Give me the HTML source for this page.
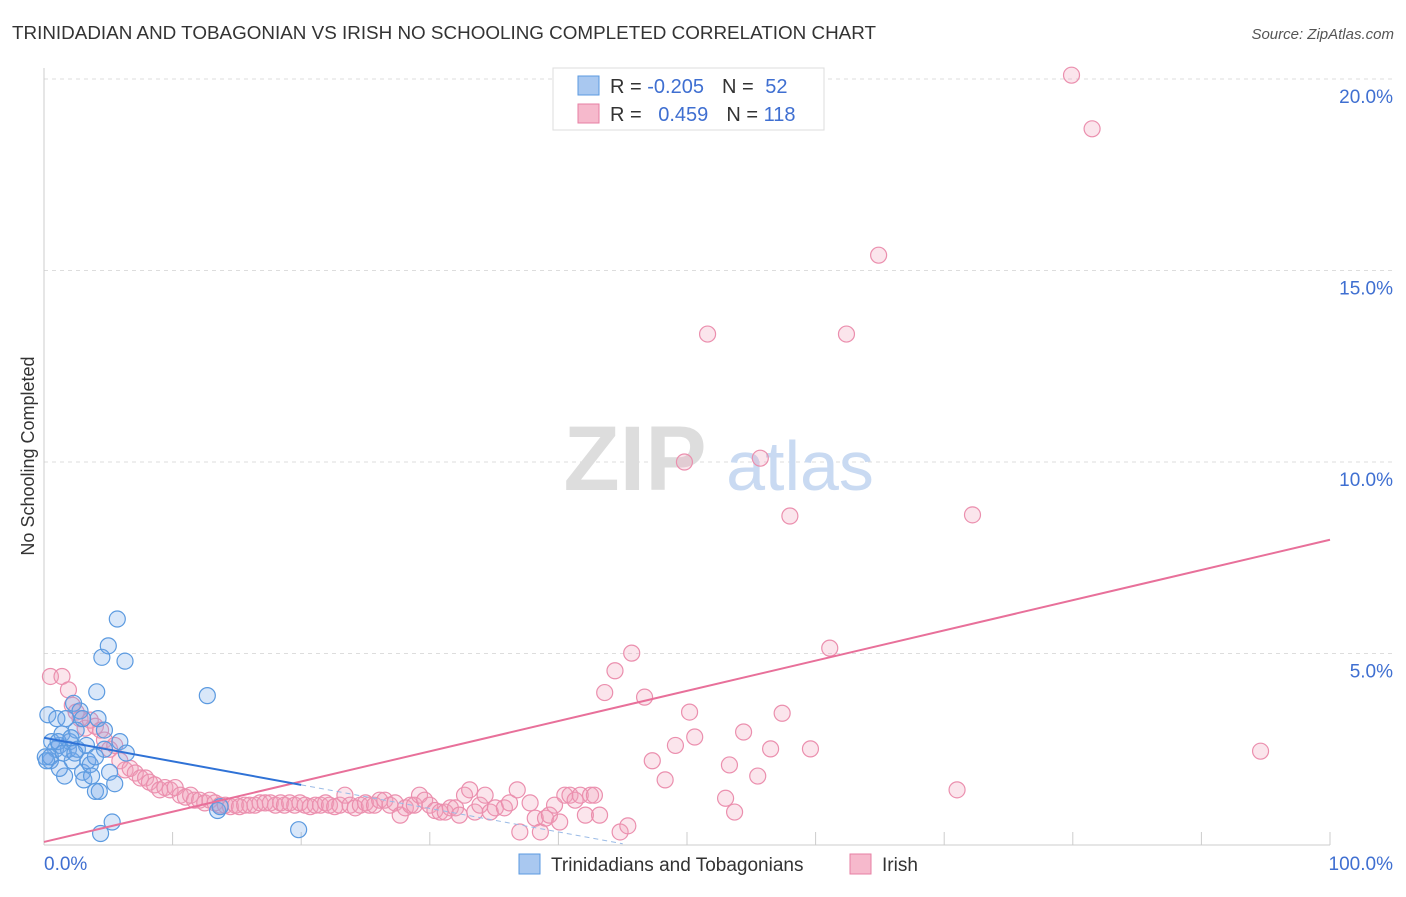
<!DOCTYPE html>
<html><head><meta charset="utf-8"><style>
body{margin:0;background:#fff;font-family:"Liberation Sans",sans-serif;}
svg text{font-family:"Liberation Sans",sans-serif;}
</style></head><body>
<svg id="chart" width="1406" height="892">
<text x="12" y="39" font-size="18" fill="#333" textLength="864" lengthAdjust="spacingAndGlyphs">TRINIDADIAN AND TOBAGONIAN VS IRISH NO SCHOOLING COMPLETED CORRELATION CHART</text>
<text x="1394" y="39" font-size="15" fill="#555" text-anchor="end" font-style="italic">Source: ZipAtlas.com</text>
<text x="34" y="456" font-size="18" fill="#333" text-anchor="middle" transform="rotate(-90 34 456)">No Schooling Completed</text>
<g id="grid"></g>
<g id="wm">
<text x="635" y="490" font-size="92" fill="#ddd" text-anchor="middle" font-family="Liberation Serif" font-weight="bold">ZIP</text>
<text x="800" y="490" font-size="70" fill="#c9daf2" text-anchor="middle">atlas</text></g>
<g id="marks"></g>
<g id="legend">
<rect x="553" y="68" width="271" height="62" fill="#fff" stroke="#ddd"/>
<rect x="578" y="76" width="21" height="19" fill="#a9c8f0" stroke="#5b9ae0"/>
<rect x="578" y="104" width="21" height="19" fill="#f6b9cc" stroke="#e77fa3"/>
<text x="610" y="93" font-size="20" fill="#333">R = <tspan fill="#3f6fd1">-0.205</tspan><tspan dx="18">N = </tspan><tspan fill="#3f6fd1" dx="6">52</tspan></text>
<text x="610" y="121" font-size="20" fill="#333">R = <tspan fill="#3f6fd1" dx="11">0.459</tspan><tspan dx="18">N = </tspan><tspan fill="#3f6fd1">118</tspan></text>
</g>
<g>
<rect x="519" y="854" width="21" height="20" fill="#a9c8f0" stroke="#5b9ae0"/>
<text x="551" y="871" font-size="19" fill="#333">Trinidadians and Tobagonians</text>
<rect x="850" y="854" width="21" height="20" fill="#f6b9cc" stroke="#e77fa3"/>
<text x="882" y="871" font-size="19" fill="#333">Irish</text>
</g>
</svg>
<script>
const yTicks=[5,10,15,20];
const yTickLabels=["5.0%","10.0%","15.0%","20.0%"];
const xTickLabels=["0.0%","100.0%"];
const blueX=[0.3,0.5,0.6,0.9,1.0,1.2,1.4,1.6,1.9,2.0,2.2,2.3,2.5,2.6,2.8,3.0,3.1,3.3,3.4,3.6,3.7,4.0,4.1,4.2,4.4,4.5,4.7,5.0,5.1,5.3,5.5,5.7,5.9,6.3,6.4,12.7,13.5,13.7,19.8,0.1,0.2,0.5,1.1,1.5,1.7,2.1,2.4,3.0,4.0,4.3,4.7,1.2];
const blueY=[3.4,2.2,2.7,2.5,3.3,2.6,2.9,1.8,2.5,2.7,2.2,3.7,3.0,2.5,3.5,1.9,1.7,2.6,2.2,2.1,1.8,1.4,4.0,3.3,0.3,4.9,2.5,5.2,1.9,0.6,1.6,5.9,2.7,4.8,2.4,3.9,0.9,1.0,0.4,2.3,2.2,2.3,2.7,2.4,3.3,2.8,2.4,3.3,2.3,1.4,3.0,2.0];
const pinkX=[0.5,1.4,1.9,2.2,2.5,2.8,3.2,3.6,4.0,4.4,4.7,5.1,5.5,5.9,6.3,6.7,7.1,7.5,7.9,8.2,8.6,9.0,9.4,9.8,10.2,10.6,11.0,11.4,11.7,12.1,12.5,12.9,13.3,13.7,14.1,14.5,14.9,15.2,15.6,16.0,16.4,16.8,17.2,17.6,18.0,18.4,18.7,19.1,19.5,19.9,20.3,20.7,21.1,21.5,21.9,22.2,22.6,23.0,23.4,23.8,24.2,24.6,25.0,25.3,25.7,26.1,26.5,26.9,27.3,27.7,28.1,28.5,28.8,29.2,29.6,30.0,30.4,30.8,31.2,31.6,32.0,32.3,32.7,33.1,33.5,33.9,34.3,34.7,35.1,35.8,36.2,36.8,37.0,37.8,38.2,38.6,39.0,39.3,39.7,40.1,40.5,40.9,41.3,41.7,42.1,42.5,42.8,43.2,43.6,44.4,44.8,45.4,45.7,46.7,47.3,48.3,49.1,50.2,50.6,51.6,49.8,53.0,53.3,53.7,54.4,55.5,55.7,56.5,57.4,58.0,59.6,61.1,62.4,64.9,71.0,72.2,79.9,81.5,94.6];
const pinkY=[4.4,4.4,4.05,3.65,3.47,3.3,3.05,3.26,3.1,3.0,2.74,2.5,2.6,2.2,1.96,2.0,1.88,1.75,1.75,1.64,1.57,1.44,1.5,1.44,1.5,1.3,1.25,1.3,1.17,1.17,1.1,1.17,1.1,1.04,1.04,1.0,1.04,1.0,1.04,1.04,1.04,1.1,1.1,1.1,1.04,1.1,1.04,1.1,1.04,1.1,1.04,1.0,1.04,1.04,1.1,1.04,1.0,1.04,1.3,1.04,0.97,1.04,1.1,1.04,1.04,1.17,1.17,1.04,1.1,0.78,0.97,1.04,1.04,1.3,1.17,1.04,0.9,0.86,0.86,0.97,0.97,0.78,1.3,1.44,0.86,1.04,1.3,0.86,0.97,0.97,1.1,1.44,0.34,1.1,0.7,0.34,0.7,0.78,1.04,0.6,1.3,1.3,1.17,1.3,0.78,1.3,1.3,0.78,3.98,4.55,0.34,0.5,5.01,3.86,2.2,1.7,2.6,3.47,2.82,13.34,10.0,1.22,2.09,0.86,2.95,1.8,10.1,2.51,3.44,8.59,2.51,5.14,13.34,15.4,1.44,8.62,20.1,18.7,2.45];
const pinkTrend=[0.08,7.97];
const blueTrend=[2.8,-0.0615];
const X=v=>44+v*12.86, Y=v=>845-v*38.3;
const NS="http://www.w3.org/2000/svg";
function mk(t,a,p){const e=document.createElementNS(NS,t);for(const k in a)e.setAttribute(k,a[k]);p.appendChild(e);return e;}
const svg=document.getElementById('chart'),grid=document.getElementById('grid'),marks=document.getElementById('marks');
yTicks.forEach((t,i)=>{
 const l=mk('line',{x1:44,x2:1393,y1:Y(t),y2:Y(t),stroke:'#ddd','stroke-dasharray':'4,4'},grid);
 
 
 const tx=mk('text',{x:1393,y:Y(t)+24,'font-size':19,fill:'#3f6fd1','text-anchor':'end'},svg);
 tx.textContent=yTickLabels[i];
 
 
});
mk('line',{x1:44,x2:44,y1:68,y2:845,stroke:'#ccc'},grid);
mk('line',{x1:44,x2:1330,y1:845,y2:845,stroke:'#ccc'},grid);
for(let i=1;i<=10;i++){const t=mk('line',{x1:X(i*10),x2:X(i*10),y1:832,y2:845,stroke:'#ccc'},grid);
 
 }
[[0,44,'start'],[100,1393,'end']].forEach((d,i)=>{const t=mk('text',{x:d[1],y:870,'font-size':19,fill:'#3f6fd1','text-anchor':d[2]},svg);t.textContent=xTickLabels[i];
 
 });
pinkX.forEach((x,i)=>{const c=mk('circle',{cx:X(x),cy:Y(pinkY[i]),r:8,fill:'rgba(242,160,188,0.28)',stroke:'#eb8fae','stroke-width':1.2},marks);
 
 });
blueX.forEach((x,i)=>{const c=mk('circle',{cx:X(x),cy:Y(blueY[i]),r:8,fill:'rgba(120,170,235,0.28)',stroke:'#5b9ae0','stroke-width':1.2},marks);
 
 });
const pl=mk('line',{x1:X(0),y1:Y(pinkTrend[0]),x2:X(100),y2:Y(pinkTrend[1]),stroke:'#e8709a','stroke-width':2},marks);


const bl=mk('line',{x1:X(0),y1:Y(blueTrend[0]),x2:X(20),y2:Y(blueTrend[0]+blueTrend[1]*20),stroke:'#2f72d6','stroke-width':2},marks);


const bd=mk('line',{x1:X(20),y1:Y(blueTrend[0]+blueTrend[1]*20),x2:X(45),y2:Y(blueTrend[0]+blueTrend[1]*45),stroke:'#9bbbe6','stroke-width':1,'stroke-dasharray':'5,4'},marks);


</script>
</body></html>
